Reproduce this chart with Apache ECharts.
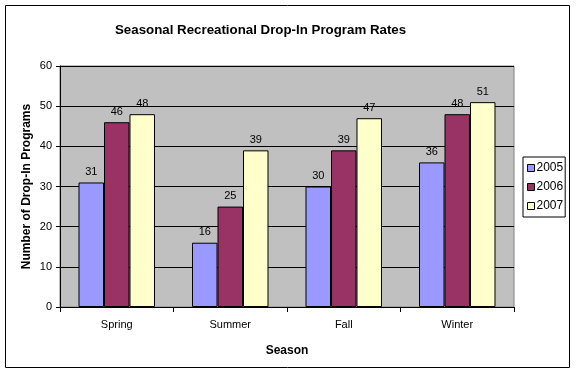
<!DOCTYPE html>
<html><head><meta charset="utf-8">
<script src="https://cdn.jsdelivr.net/npm/echarts@6/dist/echarts.min.js"></script>
<style>html,body{margin:0;padding:0;background:#fff}#c{width:576px;height:373px}</style>
</head><body><div id="c"></div>
<script>
const categories = ['Spring', 'Summer', 'Fall', 'Winter'];
const seriesNames = ['2005', '2006', '2007'];
const values2005 = [31, 16, 30, 36];
const values2006 = [46, 25, 39, 48];
const values2007 = [48, 39, 47, 51];
const colors = ['#9999FF', '#993366', '#FFFFCC'];
const F = 'Liberation Sans, Arial, sans-serif';

const chart = echarts.init(document.getElementById('c'), null, {renderer: 'canvas'});
const data = [values2005, values2006, values2007];
chart.setOption({
  animation: false,
  backgroundColor: '#fff',
  title: {
    text: 'Seasonal Recreational Drop-In Program Rates',
    left: 110, top: 19,
    textStyle: {fontFamily: F, fontSize: 13.3, fontWeight: 'bold', color: '#000'}
  },
  legend: {
    orient: 'vertical', left: 523, top: 157, itemGap: 7,
    itemWidth: 7, itemHeight: 7, icon: 'rect',
    padding: [5, 2, 5, 4],
    borderColor: '#000', borderWidth: 1, backgroundColor: '#fff',
    textStyle: {fontFamily: F, fontSize: 12, color: '#000', padding: [0,0,0,-3]},
    itemStyle: {borderColor: '#000', borderWidth: 1}
  },
  grid: {left: 60, right: 62, top: 66, bottom: 66, show: true, backgroundColor: '#C0C0C0', borderColor: '#808080', borderWidth: 1},
  xAxis: {
    type: 'category', data: categories,
    name: 'Season', nameLocation: 'middle', nameGap: 38,
    nameTextStyle: {fontFamily: F, fontSize: 12, fontWeight: 'bold', color: '#000'},
    axisLine: {lineStyle: {color: '#000'}},
    axisTick: {show: true, length: 5, lineStyle: {color: '#000'}},
    axisLabel: {fontFamily: F, fontSize: 11, color: '#000', margin: 12}
  },
  yAxis: {
    type: 'value', min: 0, max: 60, interval: 10,
    name: 'Number of Drop-In Programs', nameLocation: 'middle', nameGap: 27,
    nameMoveOverlap: false,
    nameTextStyle: {fontFamily: F, fontSize: 12, fontWeight: 'bold', color: '#000'},
    axisLine: {show: true, lineStyle: {color: '#000'}},
    axisTick: {show: true, length: 4, lineStyle: {color: '#000'}},
    axisLabel: {fontFamily: F, fontSize: 11, color: '#000', margin: 8},
    splitLine: {lineStyle: {color: '#000', width: 1}}
  },
  series: seriesNames.map((n, i) => ({
    name: n, type: 'bar', data: data[i],
    barGap: '0%', barCategoryGap: '32.6%',
    itemStyle: {color: colors[i], borderColor: '#000', borderWidth: 1},
    label: {show: true, position: 'top', distance: 5, fontFamily: F, fontSize: 11, color: '#000'}
  })),
  graphic: [{
    type: 'rect', shape: {x: 5.5, y: 5.5, width: 564, height: 362}, silent: true,
    style: {fill: null, stroke: '#000', lineWidth: 1}, z: 100
  }]
});
</script></body></html>
